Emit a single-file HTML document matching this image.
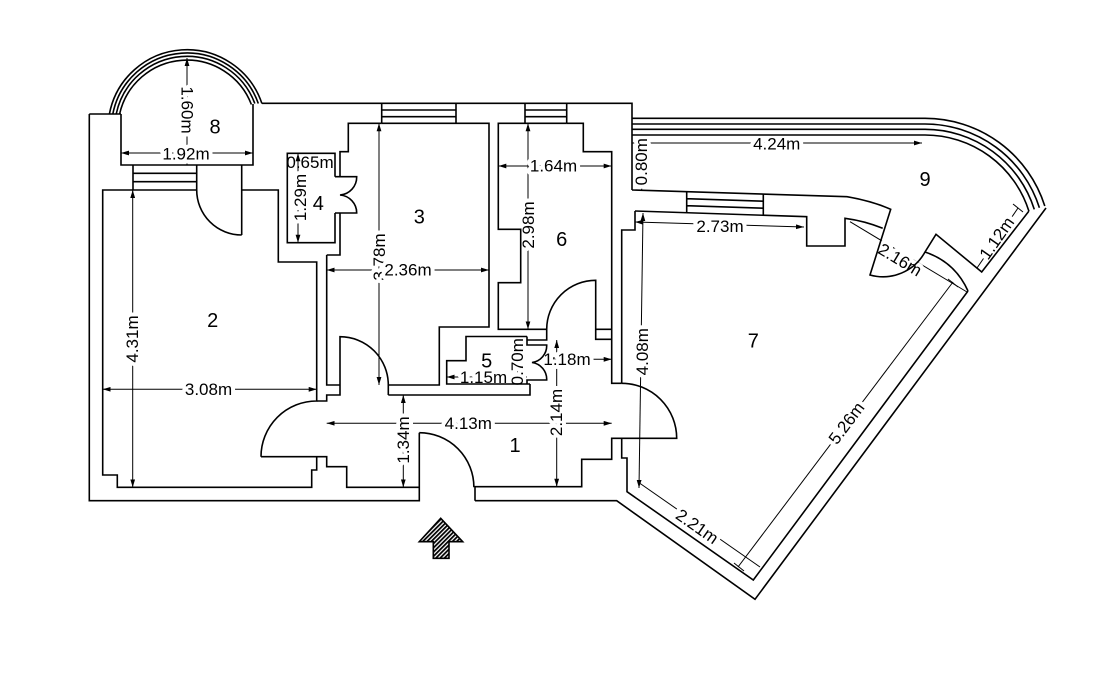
<!DOCTYPE html>
<html>
<head>
<meta charset="utf-8">
<style>
  html,body{margin:0;padding:0;background:#fff;}
  svg{display:block;}
  .d{font-family:"Liberation Sans",Arial,sans-serif;font-size:17px;fill:#000;stroke:#fff;stroke-width:8px;paint-order:stroke;stroke-linejoin:round;text-anchor:middle;dominant-baseline:central;}
  .n{font-family:"Liberation Sans",Arial,sans-serif;font-size:20px;fill:#000;text-anchor:middle;dominant-baseline:central;}
  .nh{font-family:"Liberation Sans",Arial,sans-serif;font-size:17px;fill:#000;text-anchor:middle;dominant-baseline:central;}
</style>
</head>
<body>
<svg width="1115" height="682" viewBox="0 0 1115 682" xmlns="http://www.w3.org/2000/svg">
<defs>
  <marker id="a" viewBox="0 0 10 6" refX="10" refY="3" markerWidth="8" markerHeight="5" orient="auto-start-reverse" markerUnits="userSpaceOnUse">
    <path d="M0,0L10,3L0,6z" fill="#000"/>
  </marker>
  <pattern id="h" width="3" height="3" patternUnits="userSpaceOnUse" patternTransform="rotate(45)">
    <rect width="3" height="3" fill="#fff"/>
    <line x1="0.8" y1="0" x2="0.8" y2="3" stroke="#000" stroke-width="1.9"/>
  </pattern>
</defs>

<rect width="1115" height="682" fill="#fff"/>

<!-- dimension lines -->
<g fill="none" stroke="#000" stroke-width="1" marker-start="url(#a)" marker-end="url(#a)">
  <path d="M187,58V165"/>
  <path d="M121,153H253"/>
  <path d="M298,153.3V242.7"/>
  <path d="M379,123.3V385"/>
  <path d="M326.7,270H489"/>
  <path d="M498.3,166H611.7"/>
  <path d="M528,123.3V329.3"/>
  <path d="M132.7,190V487.3"/>
  <path d="M102.7,389.3H316.7"/>
  <path d="M326.7,423.3H611.7"/>
  <path d="M403.3,395V487.3"/>
  <path d="M556.7,340V486.7"/>
  <path d="M546.7,359.3H611.7"/>
  <path d="M517.5,337V384"/>
  <path d="M446.7,377H527"/>
  <path d="M641.7,135V190"/>
  <path d="M632,143H922"/>
  <path d="M635,222L804,227"/>
  <path d="M643,213L639,488"/>
</g>
<g fill="none" stroke="#000" stroke-width="1">
  <path d="M738,567L953,282"/>
  <path d="M638,482L760,567"/>
  <path d="M850,221.7L967,292"/>
  <path d="M977,268L1018,208"/>
  <path d="M972,264L982,272M1013,204L1023,212"/>
  <path d="M734,563L744,571M948,279L958,287"/>
</g>

<!-- dimension text -->
<text class="d" transform="translate(187,110) rotate(90)">1.60m</text>
<text class="d" x="186" y="154">1.92m</text>
<text class="nh" x="310" y="162.5">0.65m</text>
<text class="d" transform="translate(300.5,197.5) rotate(-90)">1.29m</text>
<text class="d" transform="translate(379.5,257) rotate(-90)">3.78m</text>
<text class="d" x="408" y="270">2.36m</text>
<text class="d" x="553.5" y="166">1.64m</text>
<text class="d" transform="translate(528.5,225) rotate(-90)">2.98m</text>
<text class="d" transform="translate(132.7,339) rotate(-90)">4.31m</text>
<text class="d" x="208.5" y="389.3">3.08m</text>
<text class="d" x="468.3" y="423.3">4.13m</text>
<text class="d" transform="translate(403.3,440) rotate(-90)">1.34m</text>
<text class="d" transform="translate(556.7,412.5) rotate(-90)">2.14m</text>
<text class="d" x="567" y="359.3">1.18m</text>
<text class="d" transform="translate(517.5,361.7) rotate(-90)">0.70m</text>
<text class="d" x="483.5" y="377.3">1.15m</text>
<text class="d" transform="translate(641.7,161.7) rotate(-90)">0.80m</text>
<text class="d" x="776.7" y="144">4.24m</text>
<text class="d" x="720" y="226.5">2.73m</text>
<text class="d" transform="translate(642.5,351.7) rotate(-90)">4.08m</text>
<text class="d" transform="translate(846.7,423.3) rotate(-53)">5.26m</text>
<text class="d" transform="translate(697,526.7) rotate(35)">2.21m</text>
<text class="d" transform="translate(900,260) rotate(31)">2.16m</text>
<text class="d" transform="translate(997,238.3) rotate(-55)">1.12m</text>

<g fill="none" stroke="#000" stroke-width="1.6" stroke-linejoin="miter">
  <!-- outer walls -->
  <path d="M89.3,114H121 M89.3,114V500.7H419.3V432.7"/>
  <path d="M262,103.3H632V190"/>
  <path d="M475,500.7H616.7L755,599.3L1046,208"/>

  <!-- balcony 8 arcs -->
  <path d="M119.6,114A69,69 0 0 1 251.4,104.5"/>
  <path d="M116.2,114A72.3,72.3 0 0 1 254.8,103.5"/>
  <path d="M112.8,114A75.6,75.6 0 0 1 258.3,103.5"/>
  <path d="M109.4,114A79,79 0 0 1 261.9,103.5"/>
  <path d="M121,114V165H253V104"/>
  <path d="M133,165V190M196.7,165V190M133,173.3H196.7M133,181.7H196.7M133,190H196.7"/>
  <path d="M241.7,165V235M196.7,190A45,45 0 0 0 241.7,235"/>

  <!-- room 2 -->
  <path d="M133,190H102.7V475H117.3V487.3H311.7V470H316.7V456.7"/>
  <path d="M261,456.7H326.7V466.7H346.7V487.3H419.3"/>
  <path d="M261,456.7A55.7,55.7 0 0 1 316.7,401V262H278.3V190H241.7"/>

  <!-- wall 2/3 and door 3 -->
  <path d="M316.7,401H326.7V395H340V336.7A48.3,48.3 0 0 1 388.3,385V395"/>
  <path d="M326.7,255V385H340"/>

  <!-- room 3 -->
  <path d="M388.3,385H439.3V327H489V123.3H456"/>
  <path d="M381.7,123.3H348.3V151.7H340V176.7M340,213V255H326.7"/>
  <path d="M381.7,103.3V123.3M456,103.3V123.3M381.7,110H456M381.7,116.7H456M381.7,123.3H456"/>

  <!-- hall top -->
  <path d="M388.3,395H530V384"/>

  <!-- room 4 -->
  <path d="M335,176.7V153.3H287.3V242.7H335V213"/>
  <path d="M335,176.7H356.7A18,18 0 0 1 340,195A18,18 0 0 1 356.7,213H335"/>

  <!-- room 6 -->
  <path d="M525,123.3H498.3V229.3H520.7V282.7H498.3V329.3H546.7V340H527"/>
  <path d="M525,103.3V123.3M566.7,103.3V123.3M525,110H566.7M525,116.7H566.7M525,123.3H566.7"/>
  <path d="M566.7,123.3H583.3V151.7H611.7V383.3H621.7"/>
  <path d="M546.7,329.3A49,49 0 0 1 595.7,280.3V339.3H611.7M595.7,329.3H611.7"/>

  <!-- room 5 -->
  <path d="M527,336.5H466V360.7H446.7V384H530"/>
  <path d="M527,336.5V345H546.7A17,17 0 0 1 532,362.5A17,17 0 0 1 546.7,380H527V384"/>

  <!-- room 7 door, hall right & bottom -->
  <path d="M621.7,383.3A55,55 0 0 1 676.7,438.3H611.7V459.3H581.7V486.7H475V500.7"/>
  <path d="M419.3,432.7A54.6,54.6 0 0 1 473.9,487.3"/>

  <!-- room 7 -->
  <path d="M635,211V230H621.7V383.3"/>
  <path d="M621.7,438.3V458H627V491.7L753.3,580L968,291"/>
  <path d="M635,211L806.7,216.7V246H845V218.3Q865,221 882.7,228.3"/>

  <!-- balcony 9 -->
  <path d="M632,118.3H925A125.7,125.7 0 0 1 1044.8,206"/>
  <path d="M632,124H925A120,120 0 0 1 1039.4,207.8"/>
  <path d="M632,129.3H925A114.7,114.7 0 0 1 1034.3,209.4"/>
  <path d="M632,135H925A109,109 0 0 1 1028.9,211.1"/>
  <path d="M632,190L847,196.7Q872,201 890.7,209.3L870,275A48,48 0 0 0 925,252L936,234.3L981.7,272L1028.9,211.1"/>
  <path d="M925,252Q955,262 968,291"/>
  <path d="M686.7,191.7V212.7M763.3,194.1V215.3M686.7,198.7L763.3,201.2M686.7,205.7L763.3,208.2"/>
</g>

<!-- room numbers -->
<text class="n" x="215" y="127.3">8</text>
<text class="n" x="318.3" y="204">4</text>
<text class="n" x="419.3" y="217.7">3</text>
<text class="n" x="561.7" y="240">6</text>
<text class="n" x="925" y="180">9</text>
<text class="n" x="212.7" y="321">2</text>
<text class="n" x="753.3" y="341.7">7</text>
<text class="n" x="486.7" y="361.7">5</text>
<text class="n" x="515" y="446">1</text>

<!-- entrance arrow -->
<path d="M440.7,518.3L462.7,541.7H449V558.3H433.3V541.7H419.3Z" fill="url(#h)" stroke="#000" stroke-width="1.6" stroke-linejoin="miter"/>
</svg>
</body>
</html>
